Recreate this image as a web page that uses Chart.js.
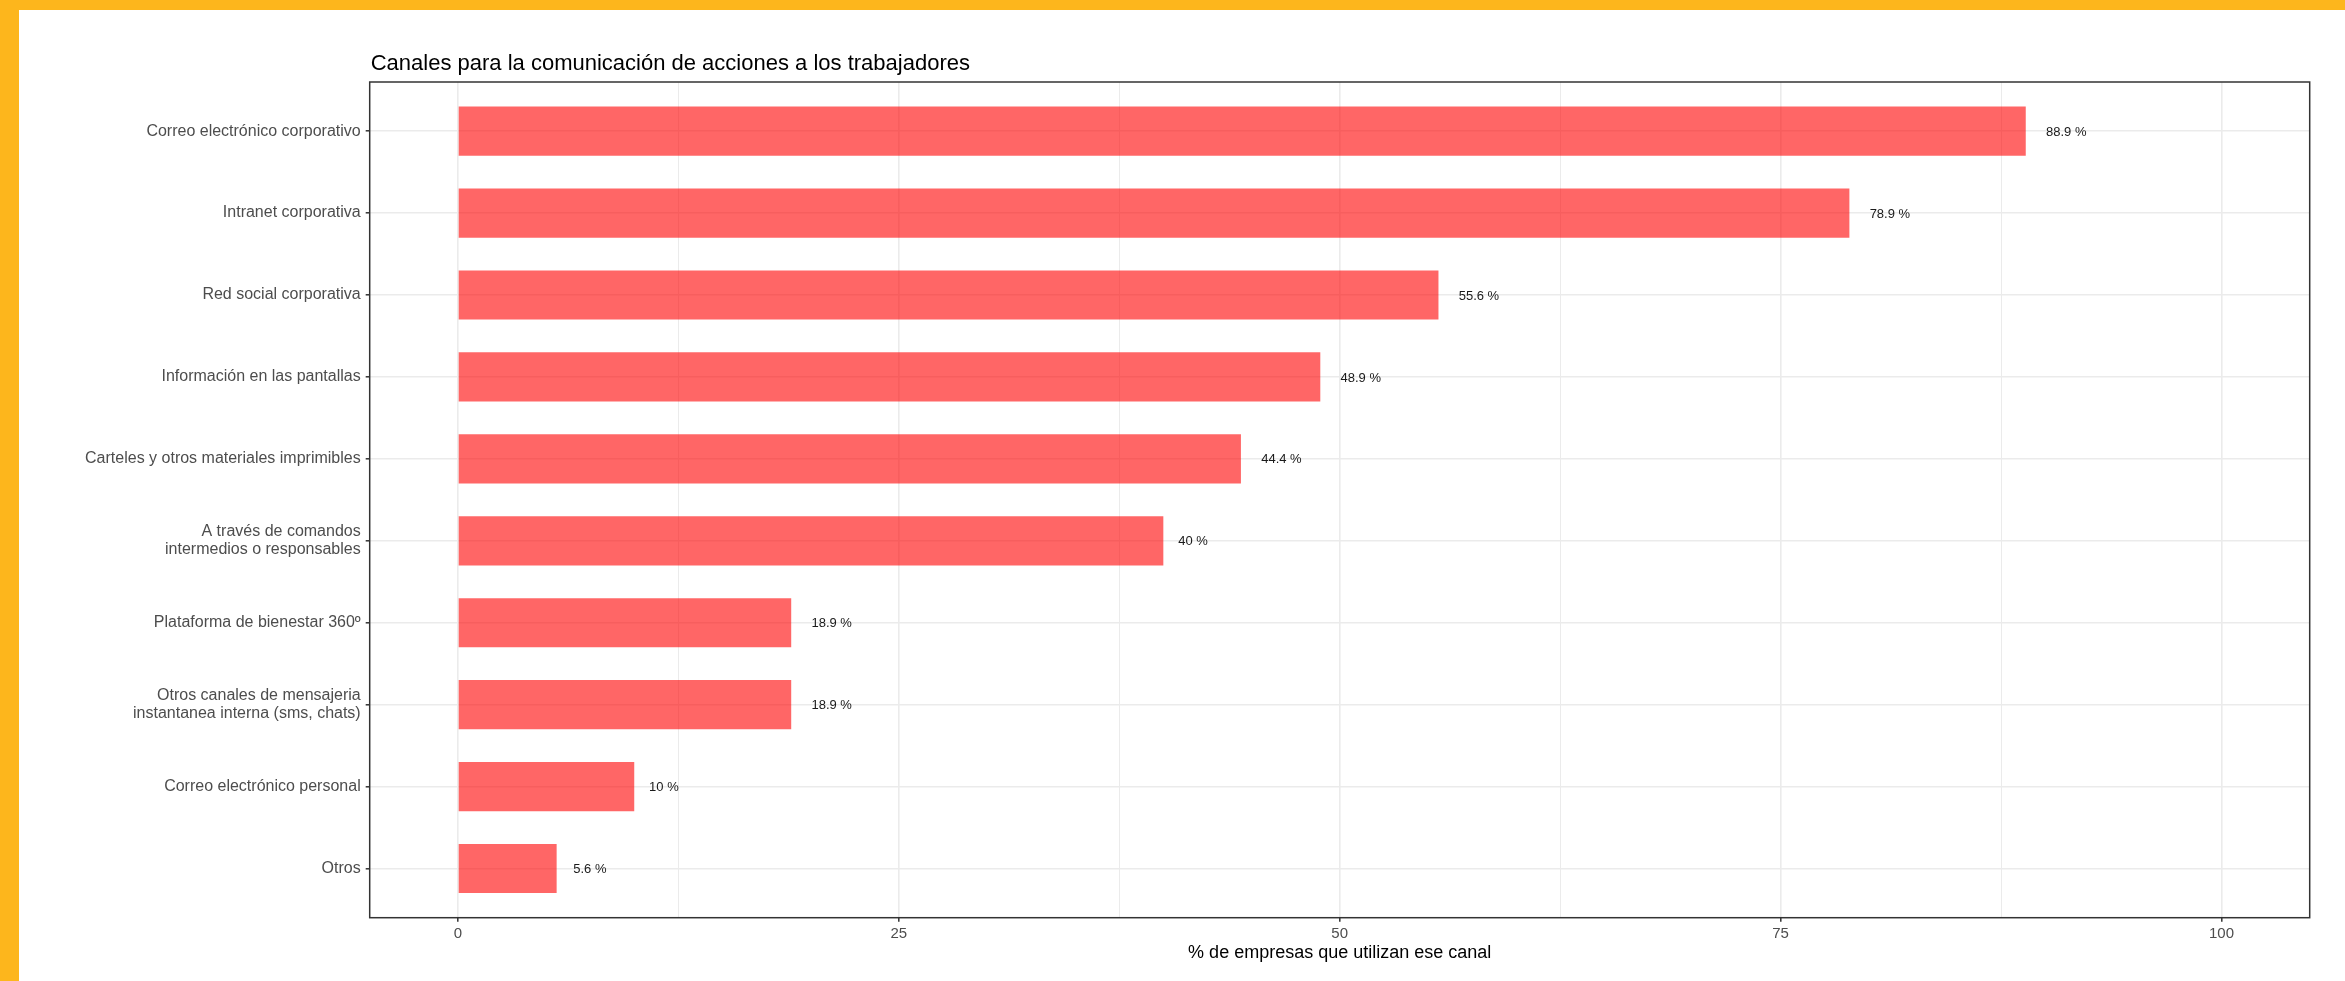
<!DOCTYPE html>
<html lang="es">
<head>
<meta charset="utf-8">
<title>Canales para la comunicación de acciones a los trabajadores</title>
<script src="https://cdn.jsdelivr.net/npm/chart.js@4.4.1/dist/chart.umd.min.js"></script>
<style>
    html, body {
        margin: 0;
        padding: 0;
        width: 2345px;
        height: 981px;
        overflow: hidden;
        background: #FDB61C;
    }
    #marco {
        position: absolute;
        left: 19px;
        top: 10px;
        width: 2326px;
        height: 971px;
        background: #ffffff;
    }
    #grafico {
        display: block;
    }
</style>
</head>
<body>
<div id="marco">
    <canvas id="grafico" width="2326" height="971"></canvas>
</div>
<script>
const titulo = 'Canales para la comunicación de acciones a los trabajadores';
const tituloEje = '% de empresas que utilizan ese canal';

const canales = [
    ['Correo electrónico corporativo'],
    ['Intranet corporativa'],
    ['Red social corporativa'],
    ['Información en las pantallas'],
    ['Carteles y otros materiales imprimibles'],
    ['A través de comandos', 'intermedios o responsables'],
    ['Plataforma de bienestar 360º'],
    ['Otros canales de mensajeria', 'instantanea interna (sms, chats)'],
    ['Correo electrónico personal'],
    ['Otros']
];
const porcentajes = [88.9, 78.9, 55.6, 48.9, 44.4, 40, 18.9, 18.9, 10, 5.6];
const marcasX = [0, 25, 50, 75, 100];

const fuente = "'Liberation Sans', Arial, sans-serif";
const grisTexto = '#4D4D4D';
const grisRejilla = '#EBEBEB';

document.addEventListener('DOMContentLoaded', function () {
    const ctx = document.getElementById('grafico').getContext('2d');

    // titulo arriba a la izquierda del panel
    const pluginTitulo = {
        id: 'tituloPanel',
        afterDraw(chart) {
            const c = chart.ctx;
            c.save();
            c.font = `22px ${fuente}`;
            c.fillStyle = '#000000';
            c.textAlign = 'left';
            c.textBaseline = 'alphabetic';
            c.fillText(titulo, chart.chartArea.left + 1, 60);
            c.restore();
        }
    };

    // marco del panel (theme_bw)
    const pluginMarco = {
        id: 'marcoPanel',
        afterDatasetsDraw(chart) {
            const { left, top, right, bottom } = chart.chartArea;
            const c = chart.ctx;
            c.save();
            c.strokeStyle = '#333333';
            c.lineWidth = 1.5;
            c.strokeRect(left, top, right - left, bottom - top);
            c.restore();
        }
    };

    // etiquetas "xx %" a la derecha de cada barra
    const pluginEtiquetas = {
        id: 'etiquetasValor',
        afterDatasetsDraw(chart) {
            const c = chart.ctx;
            const meta = chart.getDatasetMeta(0);
            c.save();
            c.font = `13px ${fuente}`;
            c.fillStyle = '#1A1A1A';
            c.textAlign = 'left';
            c.textBaseline = 'middle';
            meta.data.forEach((barra, i) => {
                const texto = `${porcentajes[i]} %`;
                const ancho = c.measureText(texto).width;
                c.fillText(texto, barra.x + ancho * 0.5, barra.y + 1);
            });
            c.restore();
        }
    };

    new Chart(ctx, {
        type: 'bar',
        data: {
            datasets: [{
                data: porcentajes.map((v, i) => ({ x: v, y: i })),
                backgroundColor: 'rgba(255, 0, 0, 0.6)',
                borderWidth: 0,
                barPercentage: 1,
                categoryPercentage: 0.6
            }]
        },
        options: {
            indexAxis: 'y',
            responsive: false,
            animation: false,
            layout: { padding: { top: 72, right: 35.3, bottom: 0, left: 0 } },
            plugins: {
                legend: { display: false },
                tooltip: { enabled: false }
            },
            scales: {
                x: {
                    type: 'linear',
                    min: -5,
                    max: 105,
                    afterFit: (escala) => { escala.height = 63.3; },
                    ticks: {
                        stepSize: 12.5,
                        includeBounds: false,
                        autoSkip: false,
                        maxRotation: 0,
                        padding: 3,
                        color: grisTexto,
                        font: { family: fuente, size: 15 },
                        callback: (v) => marcasX.includes(v) ? String(v) : ''
                    },
                    grid: {
                        color: grisRejilla,
                        lineWidth: (c) => marcasX.includes(c.tick.value) ? 1.6 : 1,
                        tickLength: 4,
                        tickWidth: 1.5,
                        tickColor: (c) => marcasX.includes(c.tick.value) ? '#333333' : 'rgba(0,0,0,0)'
                    },
                    border: { display: false },
                    title: {
                        display: true,
                        text: tituloEje,
                        color: '#000000',
                        font: { family: fuente, size: 18 },
                        padding: { top: 0, bottom: 17 }
                    }
                },
                y: {
                    type: 'linear',
                    reverse: true,
                    offset: false,
                    min: -0.6,
                    max: 9.6,
                    afterFit: (escala) => { escala.width = 350.7; },
                    ticks: {
                        stepSize: 1,
                        includeBounds: false,
                        autoSkip: false,
                        padding: 5,
                        color: grisTexto,
                        font: { family: fuente, size: 16, lineHeight: 1.1 },
                        callback: (v) => canales[v]
                    },
                    grid: {
                        offset: false,
                        color: grisRejilla,
                        lineWidth: 1.6,
                        tickLength: 4,
                        tickWidth: 1.5,
                        tickColor: '#333333'
                    },
                    border: { display: false }
                }
            }
        },
        plugins: [pluginTitulo, pluginMarco, pluginEtiquetas]
    });
});
</script>
</body>
</html>
